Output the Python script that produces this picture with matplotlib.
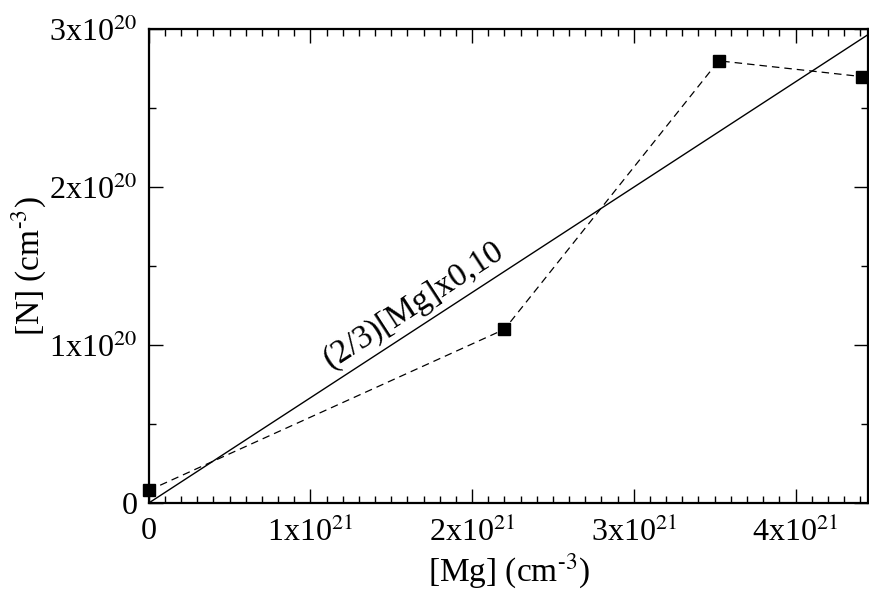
import matplotlib
matplotlib.use("Agg")
import matplotlib.pyplot as plt
from matplotlib.ticker import MultipleLocator

plt.rcParams['font.family'] = ['Liberation Serif', 'DejaVu Serif']
plt.rcParams['mathtext.fontset'] = 'stix'

# measured points
mg = [0.0, 2.20e21, 3.525e21, 4.41e21]
n = [0.08e20, 1.10e20, 2.80e20, 2.70e20]

# reference line (2/3)[Mg]x0.10
line_x = [0.0, 4.45e21]
line_y = [v * 2 / 3 * 0.10 for v in line_x]

x_ticks = [0, 1e21, 2e21, 3e21, 4e21]
x_labels = ['0', '1x10$^{21}$', '2x10$^{21}$', '3x10$^{21}$', '4x10$^{21}$']
y_ticks = [0, 1e20, 2e20, 3e20]
y_labels = ['0', '1x10$^{20}$', '2x10$^{20}$', '3x10$^{20}$']

fig = plt.figure(figsize=(8.7, 5.96), dpi=100)
ax = fig.add_axes([0.171, 0.156, 0.827, 0.795])

ax.plot(line_x, line_y, color='black', lw=1.0)
ax.plot(mg, n, color='black', lw=0.9, ls=(0, (6, 4)),
        marker='s', ms=8, clip_on=False, zorder=3)

ax.set_xlim(0, 4.45e21)
ax.set_ylim(0, 3e20)
ax.set_xticks(x_ticks)
ax.set_xticklabels(x_labels)
ax.set_yticks(y_ticks)
ax.set_yticklabels(y_labels)
ax.xaxis.set_minor_locator(MultipleLocator(1e20))
ax.yaxis.set_minor_locator(MultipleLocator(0.5e20))

ax.tick_params(which='both', direction='in', top=True, right=True,
               labelsize=23, width=1.0)
ax.tick_params(axis='x', pad=10)
ax.tick_params(axis='y', pad=8)
ax.tick_params(which='major', length=10)
ax.tick_params(which='minor', length=5)
for s in ax.spines.values():
    s.set_linewidth(1.6)

ax.set_xlabel(r'[Mg] (cm$^{\text{-}3}$)', fontsize=24, labelpad=3)
ax.set_ylabel(r'[N] (cm$^{\text{-}3}$)', fontsize=24, labelpad=0)

ax.text(1.64e21, 1.25e20, '(2/3)[Mg]x0,10', fontsize=24,
        rotation=33, ha='center', va='center', rotation_mode='anchor')

fig.savefig('out.png', dpi=100)
